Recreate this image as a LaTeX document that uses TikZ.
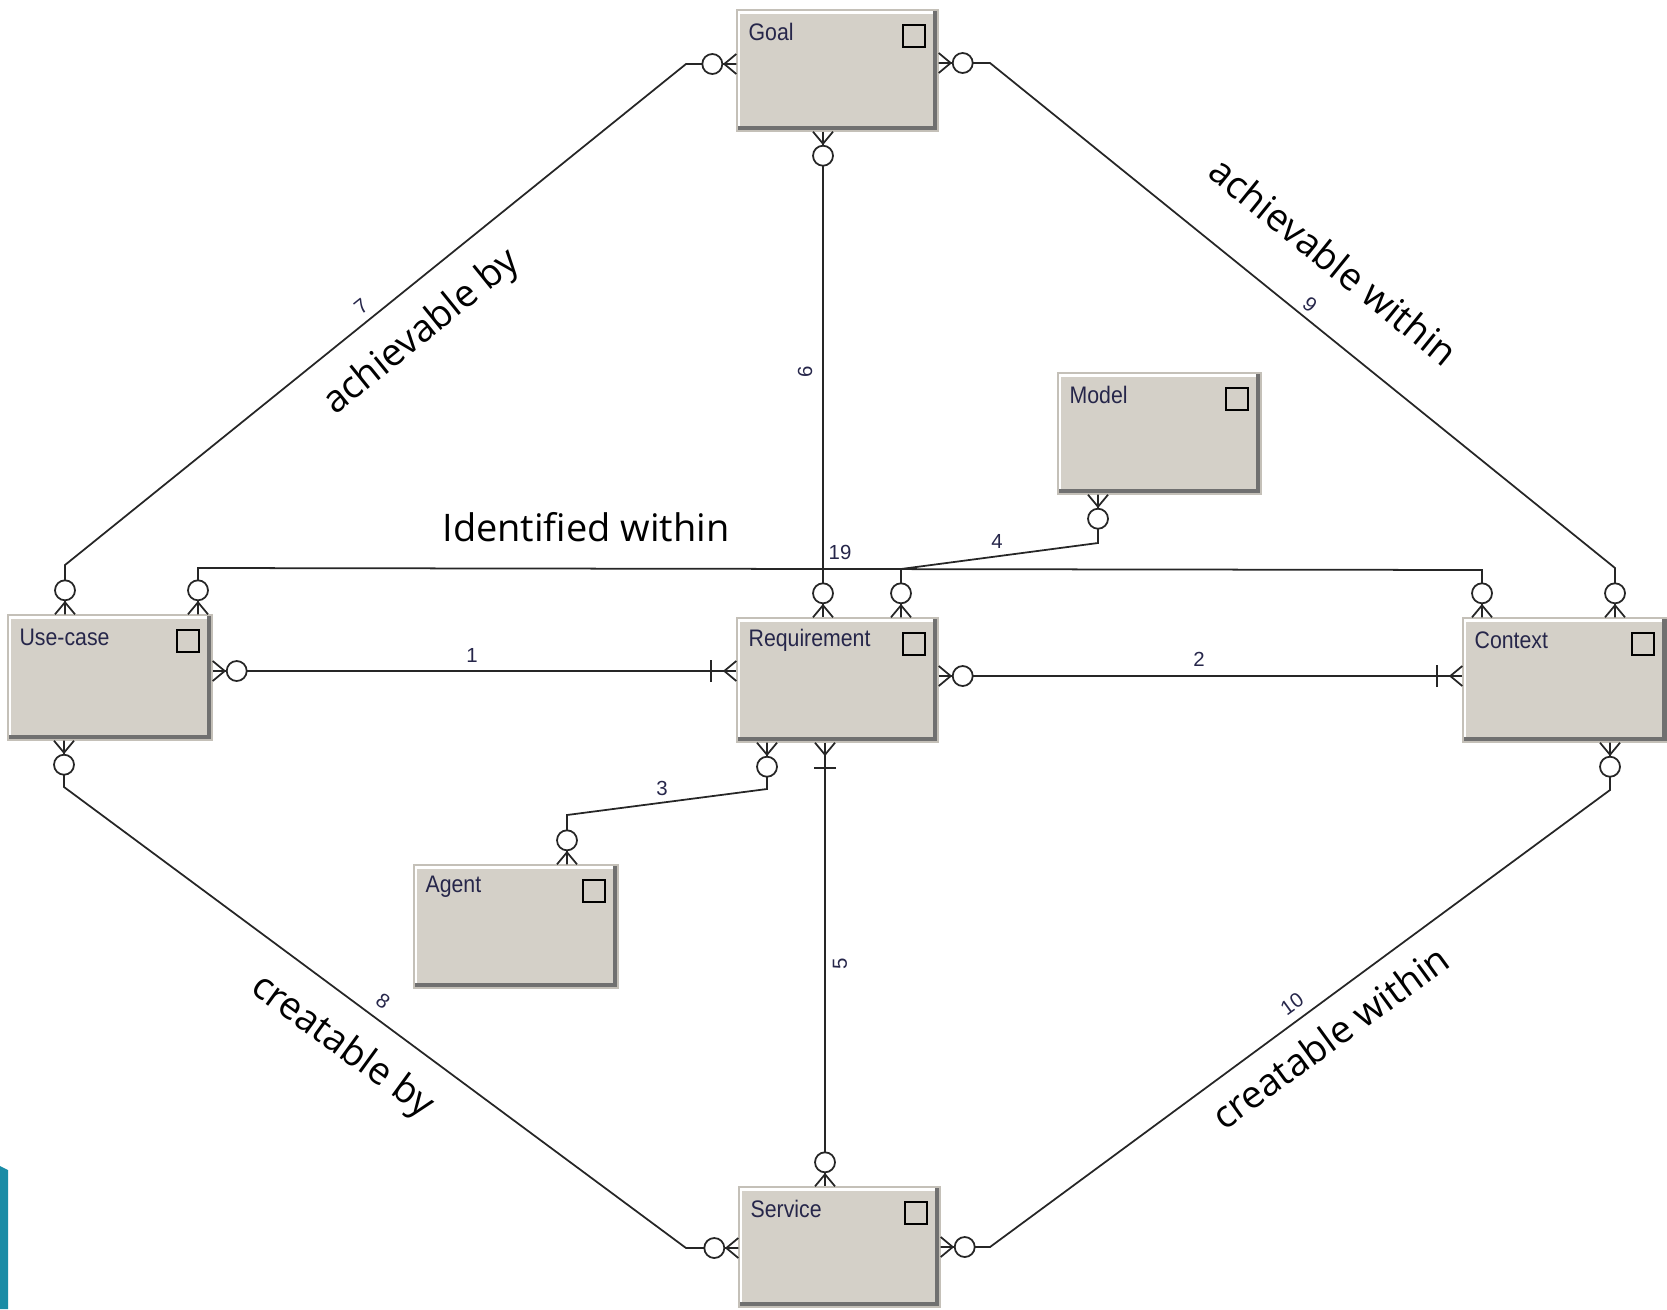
\documentclass[tikz,border=0pt]{standalone}
\usepackage{fontspec}
\setmainfont{Liberation Sans}
\newfontfamily\bigfont{Open Sans}
\usetikzlibrary{fit,calc}
\definecolor{boxgray}{HTML}{D4D0C8}
\definecolor{boxshade}{HTML}{707070}
\definecolor{boxrim}{HTML}{C4C0B8}
\definecolor{slidebar}{HTML}{1A8CA6}
\definecolor{lbltext}{HTML}{26264A}
\newcommand\ermEntity[6]{%
  \fill[boxshade] (#2,#3) rectangle (#4,#5);
  \fill[white] (#2,#3) rectangle ({#4-5},{#5-5});
  \fill[boxgray] ({#2+3},{#3+4}) rectangle ({#4-5},{#5-5});
  \draw[boxrim, line width=0.3pt] (#2,#3) rectangle (#4,#5);
  \node[inner sep=0pt, fit={(#2,#3) (#4,#5)}] (#1) {};
  \node[lbl] (#1-lbl) at ({#2+11},{#3+22}) {#6};
  \draw[line width=0.6pt] ({#4-35},{#3+15}) rectangle ({#4-13},{#3+37});
}
\newcommand\zmany[2]{%
  \begin{scope}[shift={#1},rotate=#2]
    \draw[conn] (0,10) -- (12,0) -- (0,-10);
    \draw[conn,fill=white] (24,0) circle[radius=10];
  \end{scope}}
\newcommand\omany[2]{%
  \begin{scope}[shift={#1},rotate=#2]
    \draw[conn] (0,10) -- (12,0) -- (0,-10);
    \draw[conn] (25,-11) -- (25,11);
  \end{scope}}
\begin{document}
\begin{tikzpicture}[x=0.01cm,y=-0.01cm,
  conn/.style={draw=black!85, line width=0.5pt},
  lbl/.style={font=\fontsize{6.8}{7.5}\selectfont, text=lbltext, inner sep=0pt, anchor=west, xscale=0.89},
  num/.style={font=\fontsize{5.8}{6}\selectfont, inner sep=0pt, text=lbltext},
  big/.style={font=\bigfont\fontsize{10.8}{12}\selectfont, inner sep=0pt}]
\useasboundingbox (0,0) rectangle (1667,1309);

\ermEntity{goal}{737}{10}{938}{131}{Goal}
\ermEntity{req}{737}{618}{938}{742}{Requirement}
\ermEntity{uc}{8}{615}{212}{740}{Use-case}
\ermEntity{ctx}{1463}{618}{1667}{742}{Context}
\ermEntity{model}{1058}{373}{1261}{494}{Model}
\ermEntity{agent}{414}{865}{618}{988}{Agent}
\ermEntity{svc}{739}{1187}{940}{1307}{Service}

% attachment points
\coordinate (g7) at (goal.west |- 0,64);
\coordinate (u7) at (uc.north -| 65,0);
\coordinate (g9) at (goal.east |- 0,63);
\coordinate (c9) at (ctx.north -| 1615,0);
\coordinate (g6) at (goal.south -| 823,0);
\coordinate (r6) at (req.north -| 823,0);
\coordinate (u1) at (uc.east |- 0,671);
\coordinate (r1) at (req.west |- 0,671);
\coordinate (r2) at (req.east |- 0,676);
\coordinate (c2) at (ctx.west |- 0,676);
\coordinate (r3) at (req.south -| 767,0);
\coordinate (a3) at (agent.north -| 567,0);
\coordinate (m4) at (model.south -| 1098,0);
\coordinate (r4) at (req.north -| 901,0);
\coordinate (r5) at (req.south -| 825,0);
\coordinate (s5) at (svc.north -| 825,0);
\coordinate (u8) at (uc.south -| 64,0);
\coordinate (s8) at (svc.west |- 0,1248);
\coordinate (c10) at (ctx.south -| 1610,0);
\coordinate (s10) at (svc.east |- 0,1247);
\coordinate (u19) at (uc.north -| 198,0);
\coordinate (c19) at (ctx.north -| 1482,0);

% connectors
\draw[conn] (g7) -- (686,64) -- (65,565) -- (u7);
\draw[conn] (g9) -- (990,63) -- (1615,568) -- (c9);
\draw[conn] (g6) -- (r6);
\draw[conn] (u1) -- (r1);
\draw[conn] (r2) -- (c2);
\draw[conn] (r3) -- (767,789) -- (567,815) -- (a3);
\draw[conn] (m4) -- (1098,543) -- (901,569) -- (r4);
\draw[conn] (r5) -- (s5);
\draw[conn] (u8) -- (64,787) -- (686,1248) -- (s8);
\draw[conn] (c10) -- (1610,790) -- (990,1247) -- (s10);
\draw[conn] (u19) -- (198,568) -- (1482,570) -- (c19);

% end markers
\zmany{(g7)}{180} \zmany{(u7)}{90}
\zmany{(g9)}{0} \zmany{(c9)}{90}
\zmany{(g6)}{-90} \zmany{(r6)}{90}
\zmany{(u1)}{0} \omany{(r1)}{180}
\zmany{(r2)}{0} \omany{(c2)}{180}
\zmany{(r3)}{-90} \zmany{(a3)}{90}
\zmany{(m4)}{-90} \zmany{(r4)}{90}
\omany{(r5)}{-90} \zmany{(s5)}{90}
\zmany{(u8)}{-90} \zmany{(s8)}{180}
\zmany{(c10)}{-90} \zmany{(s10)}{0}
\zmany{(u19)}{90} \zmany{(c19)}{90}

% relationship numbers
\node[num, rotate=39] (n7) at (361,306) {7};
\node[num, rotate=-39] (n9) at (1310,305) {9};
\node[num, rotate=90] (n6) at (805,372) {6};
\node[num, rotate=90] (n5) at (840,964) {5};
\node[num, rotate=-36] (n8) at (383,1001) {8};
\node[num, rotate=36] (n10) at (1292,1004) {10};
\node[num] (n19) at (840,552) {19};
\node[num] (n4) at (997,541) {4};
\node[num] (n3) at (662,788) {3};
\node[num] (n1) at (472,655) {1};
\node[num] (n2) at (1199,659) {2};

% relationship names
\node[big, rotate=39] (t7) at (422,333) {achievable by};
\node[big, rotate=-39] (t9) at (1334,261) {achievable within};
\node[big] (t19) at (586,527) {Identified within};
\node[big, rotate=-36] (t8) at (342,1047) {creatable by};
\node[big, rotate=36] (t10) at (1330,1037) {creatable within};

% slide edge
\fill[slidebar] (0,1166) -- (8,1170) -- (8,1309) -- (0,1309) -- cycle;
\end{tikzpicture}
\end{document}
